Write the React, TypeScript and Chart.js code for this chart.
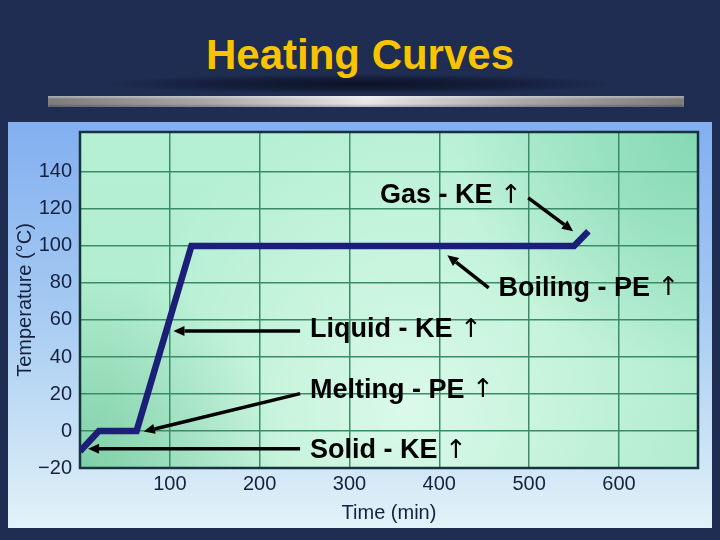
import React, { useEffect, useRef } from "react";
import { Chart, registerables } from "chart.js";

Chart.register(...registerables);

// ---- data ----
const timeMin = [0, 21, 63, 124, 550, 566];
const temperatureC = [-11, 0, 0, 100, 100, 108];
const yTickValues = [-20, 0, 20, 40, 60, 80, 100, 120, 140];
const xTickValues = [100, 200, 300, 400, 500, 600];

// annotations (data coordinates)
const noteTexts = ["Gas - KE", "Boiling - PE", "Liquid - KE", "Melting - PE", "Solid - KE"];
const noteX = [334, 466, 256, 256, 256];
const noteY = [127, 77, 54.6, 21.8, -10.7];
const arrowFromX = [499, 455, 245, 245, 245];
const arrowFromY = [126, 77.4, 54.1, 20.2, -9.6];
const arrowToX = [549, 409, 104, 71, 9];
const arrowToY = [108, 95, 54.1, -0.3, -9.6];

const FONT = "'Liberation Sans', Arial, Helvetica, sans-serif";

const backdropPlugin = {
  id: "backdrop",
  beforeDraw(chart: any) {
    const { ctx, chartArea: a } = chart;
    ctx.save();
    // light blue panel
    const g = ctx.createLinearGradient(0, a.top - 10, 0, a.bottom + 60);
    g.addColorStop(0, "#82aff0");
    g.addColorStop(0.45, "#a4c9f2");
    g.addColorStop(1, "#e2f2f8");
    ctx.fillStyle = g;
    ctx.fillRect(a.left - 72, a.top - 10, a.right - a.left + 86, a.bottom - a.top + 70);
    // plot area
    const pg = ctx.createLinearGradient(0, a.top, 0, a.bottom);
    pg.addColorStop(0, "#b6f0d4");
    pg.addColorStop(1, "#b0eccc");
    ctx.fillStyle = pg;
    ctx.fillRect(a.left, a.top, a.right - a.left, a.bottom - a.top);
    const r1 = ctx.createRadialGradient(a.left + 330, a.bottom - 60, 0, a.left + 330, a.bottom - 60, 300);
    r1.addColorStop(0, "rgba(236,255,246,0.7)");
    r1.addColorStop(1, "rgba(236,255,246,0)");
    ctx.fillStyle = r1;
    ctx.fillRect(a.left, a.top, a.right - a.left, a.bottom - a.top);
    const r2 = ctx.createRadialGradient(a.left, a.bottom, 0, a.left, a.bottom, 200);
    r2.addColorStop(0, "rgba(50,160,110,0.38)");
    r2.addColorStop(1, "rgba(50,160,110,0)");
    ctx.fillStyle = r2;
    ctx.fillRect(a.left, a.top, a.right - a.left, a.bottom - a.top);
    const r3 = ctx.createRadialGradient(a.right, a.top, 0, a.right, a.top, 240);
    r3.addColorStop(0, "rgba(60,180,130,0.4)");
    r3.addColorStop(1, "rgba(60,180,130,0)");
    ctx.fillStyle = r3;
    ctx.fillRect(a.left, a.top, a.right - a.left, a.bottom - a.top);
    ctx.restore();
  },
  beforeDatasetsDraw(chart: any) {
    const { ctx, chartArea: a } = chart;
    ctx.save();
    ctx.strokeStyle = "#16323c";
    ctx.lineWidth = 2.5;
    ctx.strokeRect(a.left, a.top, a.right - a.left, a.bottom - a.top);
    ctx.restore();
  },
  afterDatasetsDraw(chart: any) {
    const { ctx } = chart;
    const xs = chart.scales.x;
    const ys = chart.scales.y;
    ctx.save();
    for (let i = 0; i < noteTexts.length; i++) {
      const x1 = xs.getPixelForValue(arrowFromX[i]);
      const y1 = ys.getPixelForValue(arrowFromY[i]);
      const x2 = xs.getPixelForValue(arrowToX[i]);
      const y2 = ys.getPixelForValue(arrowToY[i]);
      const ang = Math.atan2(y2 - y1, x2 - x1);
      const head = 11;
      const bx = x2 - Math.cos(ang) * head;
      const by = y2 - Math.sin(ang) * head;
      ctx.strokeStyle = "#000";
      ctx.fillStyle = "#000";
      ctx.lineWidth = 3.5;
      ctx.lineCap = "butt";
      ctx.beginPath();
      ctx.moveTo(x1, y1);
      ctx.lineTo(bx, by);
      ctx.stroke();
      ctx.beginPath();
      ctx.moveTo(x2, y2);
      ctx.lineTo(bx + Math.cos(ang + Math.PI / 2) * 5, by + Math.sin(ang + Math.PI / 2) * 5);
      ctx.lineTo(bx + Math.cos(ang - Math.PI / 2) * 5, by + Math.sin(ang - Math.PI / 2) * 5);
      ctx.closePath();
      ctx.fill();

      const tx = xs.getPixelForValue(noteX[i]);
      const ty = ys.getPixelForValue(noteY[i]);
      ctx.font = `bold 27px ${FONT}`;
      ctx.textAlign = "left";
      ctx.textBaseline = "middle";
      ctx.fillText(noteTexts[i], tx, ty);
      const w = ctx.measureText(noteTexts[i] + " ").width;
      ctx.font = `26px 'DejaVu Sans', ${FONT}`;
      ctx.fillText("\u2191", tx + w, ty);
    }
    ctx.restore();
  },
};

export default function App() {
  const canvasRef = useRef<HTMLCanvasElement | null>(null);

  useEffect(() => {
    document.body.style.margin = "0";
    const canvas = canvasRef.current;
    if (!canvas) return;
    const tickColor = "#14223f";
    const gridColor = "#3a8c68";
    const chart = new Chart(canvas, {
      type: "line",
      data: {
        datasets: [
          {
            data: timeMin.map((t, i) => ({ x: t, y: temperatureC[i] })),
            borderColor: "#1c1f78",
            borderWidth: 6.5,
            borderJoinStyle: "miter",
            pointRadius: 0,
            tension: 0,
            fill: false,
          },
        ],
      },
      options: {
        responsive: false,
        animation: false,
        devicePixelRatio: 1,
        layout: { padding: { top: 132, right: 22, bottom: 0, left: 0 } },
        plugins: {
          legend: { display: false },
          tooltip: { enabled: false },
          title: { display: false },
        },
        scales: {
          x: {
            type: "linear",
            min: 0,
            max: 688,
            afterFit: (s: any) => {
              s.height = 72;
            },
            afterBuildTicks: (s: any) => {
              s.ticks = xTickValues.map((v) => ({ value: v }));
            },
            grid: { color: gridColor, lineWidth: 1.5, drawTicks: false },
            border: { display: false },
            ticks: {
              color: tickColor,
              padding: 4,
              font: { family: FONT, size: 20 },
              maxRotation: 0,
            },
            title: {
              display: true,
              text: "Time (min)",
              color: tickColor,
              font: { family: FONT, size: 20 },
              padding: { top: 0, bottom: 15 },
            },
          },
          y: {
            type: "linear",
            min: -20,
            max: 161.6,
            afterFit: (s: any) => {
              s.width = 80;
            },
            afterBuildTicks: (s: any) => {
              s.ticks = yTickValues.map((v) => ({ value: v }));
            },
            grid: { color: gridColor, lineWidth: 1.5, drawTicks: false },
            border: { display: false },
            ticks: {
              color: tickColor,
              padding: 8,
              font: { family: FONT, size: 20 },
              callback: (v: any) => String(v).replace("-", "\u2212"),
            },
            title: {
              display: true,
              text: "Temperature (\u00B0C)",
              color: tickColor,
              font: { family: FONT, size: 20 },
              padding: { top: 13, bottom: 0 },
            },
          },
        },
      },
      plugins: [backdropPlugin],
    } as any);
    return () => chart.destroy();
  }, []);

  return (
    <div
      style={{
        position: "relative",
        width: 720,
        height: 540,
        background: "#1f2d52",
        overflow: "hidden",
      }}
    >
      <div
        style={{
          position: "absolute",
          left: 110,
          top: 74,
          width: 500,
          height: 20,
          background: "radial-gradient(ellipse at center, rgba(8,12,30,0.85) 0%, rgba(8,12,30,0.4) 45%, rgba(8,12,30,0) 72%)",
        }}
      />
      <div
        style={{
          position: "absolute",
          left: 48,
          top: 96,
          width: 636,
          height: 11,
          background:
            "linear-gradient(to right, #7c7c7c 0%, #a8a8a8 25%, #e8e8e8 50%, #a8a8a8 75%, #7c7c7c 100%)",
          boxShadow: "inset 0 2px 2px rgba(255,255,255,0.35), inset 0 -2px 2px rgba(0,0,0,0.2)",
        }}
      />
      <div
        style={{
          position: "absolute",
          left: 0,
          top: 34,
          width: 720,
          textAlign: "center",
          fontFamily: FONT,
          fontWeight: "bold",
          fontSize: 42,
          lineHeight: "42px",
          color: "#f8c400",
        }}
      >
        Heating Curves
      </div>
      <canvas
        ref={canvasRef}
        width={720}
        height={540}
        style={{ position: "absolute", left: 0, top: 0, width: 720, height: 540 }}
      />
    </div>
  );
}
